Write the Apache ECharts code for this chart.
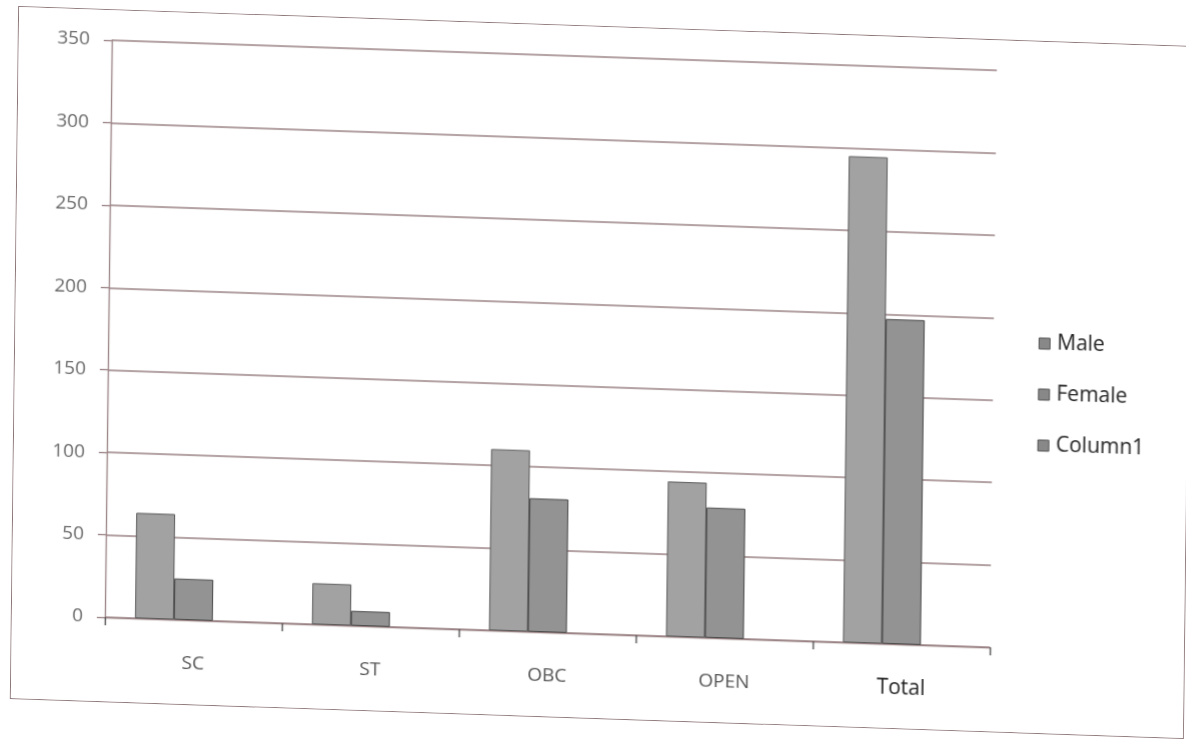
<!DOCTYPE html>
<html>
<head>
<meta charset="utf-8">
<script src="https://cdn.jsdelivr.net/npm/echarts@6/dist/echarts.min.js"></script>
<style>
  html, body { margin: 0; padding: 0; background: #ffffff; width: 1186px; height: 740px; overflow: hidden; }
  #frame {
    position: absolute; left: 14px; top: 26px; width: 1174px; height: 693px;
    border: 1.5px solid #8d7678; box-sizing: border-box;
    transform: matrix(1, 0.034, -0.012, 1, 0, 0); transform-origin: 50% 50%;
    background: #ffffff;
  }
  #chart { width: 100%; height: 100%; }
</style>
</head>
<body>
<div id="frame"><div id="chart"></div></div>
<script>
const categories = ['SC', 'ST', 'OBC', 'OPEN', 'Total'];
const maleValues = [64, 25, 110, 94, 295];
const femaleValues = [25, 9, 81, 79, 197];
const column1Values = [null, null, null, null, null];
const yTicks = { min: 0, max: 350, interval: 50 };

const font = 'Open Sans';
const gridColor = '#9a8284';
const chart = echarts.init(document.getElementById('chart'), null, { renderer: 'canvas' });

chart.setOption({
  animation: false,
  backgroundColor: '#ffffff',
  grid: { left: 93, right: 194, top: 30, bottom: 84, containLabel: false },
  legend: {
    orient: 'vertical',
    left: 1018, top: 286,
    itemWidth: 11, itemHeight: 11, itemGap: 30,
    icon: 'rect',
    itemStyle: { color: '#888888', borderColor: '#555555', borderWidth: 1 },
    textStyle: { fontFamily: font, fontSize: 21, color: '#222222', padding: [0, 0, 0, 2] },
    data: ['Male', 'Female', 'Column1']
  },
  xAxis: {
    type: 'category',
    data: categories,
    boundaryGap: true,
    axisLine: { show: true, lineStyle: { color: gridColor, width: 1.3 } },
    axisTick: { show: true, length: 8, alignWithLabel: false, lineStyle: { color: '#444', width: 1.3 } },
    axisLabel: {
      margin: 34,
      fontFamily: font, fontSize: 19, color: '#555555',
      formatter: v => v === 'Total' ? '{t|' + v + '}' : v,
      rich: { t: { fontFamily: font, fontSize: 21, color: '#1e1e1e' } }
    }
  },
  yAxis: {
    type: 'value',
    min: yTicks.min, max: yTicks.max, interval: yTicks.interval,
    axisLine: { show: true, lineStyle: { color: gridColor, width: 1.3 } },
    axisTick: { show: true, length: 8, lineStyle: { color: gridColor, width: 1.3 } },
    axisLabel: { margin: 22, fontFamily: font, fontSize: 19, color: '#6a6a6a' },
    splitLine: { show: true, lineStyle: { color: gridColor, width: 1.5 } }
  },
  series: [
    {
      name: 'Male', type: 'bar', data: maleValues,
      barGap: '0%', barCategoryGap: '34%',
      itemStyle: { color: '#a2a2a2', borderColor: '#5a5a5a', borderWidth: 1 }
    },
    {
      name: 'Female', type: 'bar', data: femaleValues,
      barGap: '0%', barCategoryGap: '34%',
      itemStyle: { color: '#939393', borderColor: '#4a4a4a', borderWidth: 1 }
    },
    {
      name: 'Column1', type: 'bar', data: column1Values,
      barGap: '0%', barCategoryGap: '34%',
      itemStyle: { color: '#8c8c8c', borderColor: '#555555', borderWidth: 1 }
    }
  ]
});
</script>
</body>
</html>
